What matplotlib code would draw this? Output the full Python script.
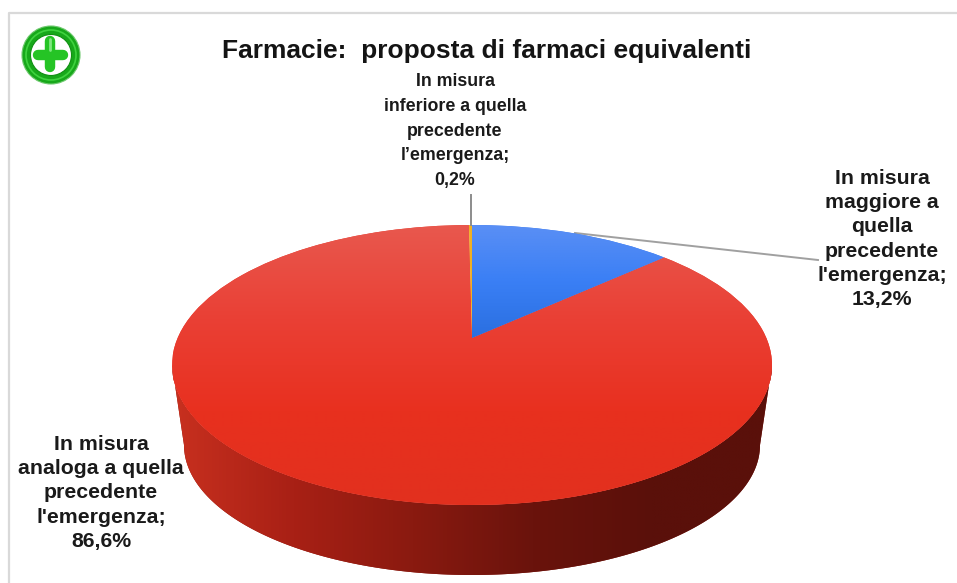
import numpy as np
import matplotlib
matplotlib.use('Agg')
import matplotlib.pyplot as plt
from matplotlib.colors import LinearSegmentedColormap
from matplotlib.patches import Circle, Polygon
from matplotlib.transforms import Transform

plt.rcParams['font.family'] = ['Liberation Sans', 'DejaVu Sans']

titolo = 'Farmacie:  proposta di farmaci equivalenti'
categorie = ['In misura\nmaggiore a\nquella\nprecedente\nl\'emergenza;',
             'In misura\nanaloga a quella\nprecedente\nl\'emergenza;',
             'In misura\ninferiore a quella\nprecedente\nl’emergenza;']
valori = [13.2, 86.6, 0.2]
etichette_valori = ['13,2%', '86,6%', '0,2%']

# geometria della torta in pixel
CX, CY = 472, 365
RX, RY = 300, 140
APICE = 27
BASE_CY, BASE_RX, BASE_RY = 445, 288, 130
R = APICE * 2 / (2 * RY)
S = RX * np.sqrt(1 - (APICE / RY) ** 2)


class Prospettiva(Transform):
    # porta il cerchio unitario sull'ellisse vista in prospettiva
    input_dims = 2
    output_dims = 2

    def transform_non_affine(self, xy):
        xy = np.asarray(xy, dtype=float)
        d = 1 + R * xy[:, 1]
        return np.column_stack([CX + S * xy[:, 0] / d,
                                CY - (RY * xy[:, 1] + APICE) / d])


def sfumatura(ax, colori, extent, verticale, clip, z):
    cmap = LinearSegmentedColormap.from_list('s', colori)
    g = np.linspace(0, 1, 256)
    g = g[:, None] if verticale else g[None, :]
    im = ax.imshow(g, cmap=cmap, extent=extent, aspect='auto',
                   interpolation='bilinear', zorder=z)
    im.set_clip_path(clip)


fig = plt.figure(figsize=(9.57, 5.83), dpi=100)
ax = fig.add_axes([0, 0, 1, 1])

wedges, _ = ax.pie(valori, startangle=90, counterclock=False,
                   colors=['#3a7bee', '#e8382a', '#f0b020'])
for w in wedges:
    w.set_transform(Prospettiva() + ax.transData)
    w.set_zorder(2)

# bordo laterale
t = np.linspace(0, np.pi, 200)
rim = np.column_stack([CX + RX * np.cos(t), CY + RY * np.sin(t)])
fondo = np.column_stack([CX + BASE_RX * np.cos(t[::-1]), BASE_CY + BASE_RY * np.sin(t[::-1])])
lato = Polygon(np.vstack([rim, fondo]), closed=True, fc='#8a1a10', ec='none', zorder=1)
ax.add_patch(lato)
sfumatura(ax, ['#c8301f', '#a82015', '#8a1a10', '#6a130c', '#5a100a', '#5a100a'],
          (173, 773, 575, 365), False, lato, 1.5)

# sfumature della faccia superiore
sfumatura(ax, ['#e8584e', '#ea4035', '#e8301f', '#e2301e'], (173, 773, 505, 225), True, wedges[1], 2.5)
sfumatura(ax, ['#5a8ff5', '#3a7ff5', '#2a6fe0'], (472, 700, 338, 225), True, wedges[0], 2.6)
wedges[2].set_zorder(3)

# linee guida
ax.plot([471, 471], [195, 225], color='#8c8c8c', lw=1.4, zorder=4)
ax.plot([575, 818], [233, 260], color='#a0a0a0', lw=1.4, zorder=1.8)

# cornice
ax.plot([9, 9, 957], [583, 13, 13], color='#d9d9d9', lw=1.6, zorder=1)

# icona
ax.add_patch(Circle((51, 55), 29, fc='#17a81a', ec='#6fc96f', lw=0.8, zorder=3))
ax.add_patch(Circle((51, 55), 25, fc='none', ec='#3fd23f', lw=1.2, zorder=3))
ax.add_patch(Circle((51, 55), 20.5, fc='white', ec='#0f8f12', lw=0.8, zorder=3))
ax.plot([50, 50], [41, 67], color='#25c425', lw=7.5, solid_capstyle='round', zorder=4)
ax.plot([38, 63], [55, 55], color='#25c425', lw=7.5, solid_capstyle='round', zorder=4)
ax.plot([50, 50], [39, 50], color='#7fe87f', lw=2, solid_capstyle='round', zorder=5)

# testi
ax.text(487, 51, titolo, ha='center', va='center', fontsize=19, fontweight='bold', color='#141414')
posizioni = [(882, 239), (101, 493), (455, 131)]
dimensioni = [15.3, 15.3, 12.8]
interlinea = [1.336, 1.336, 1.61]
for cat, val, pos, fs, ls in zip(categorie, etichette_valori, posizioni, dimensioni, interlinea):
    ax.text(pos[0], pos[1], cat + '\n' + val, ha='center', va='center', fontsize=fs,
            fontweight='bold', color='#1a1a1a', linespacing=ls, zorder=5)

ax.set_aspect('auto')
ax.set_xlim(0, 957)
ax.set_ylim(583, 0)
ax.axis('off')

fig.savefig('out.png', dpi=100, facecolor='white')
